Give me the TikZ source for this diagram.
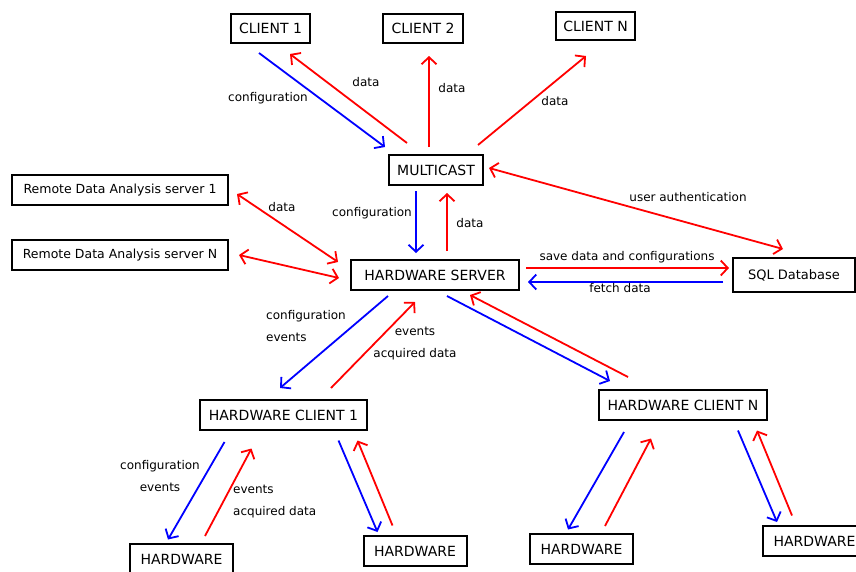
\documentclass[tikz,border=0pt]{standalone}
\usepackage{fontspec}
\setmainfont{DejaVu Sans}
\usetikzlibrary{arrows.meta,calc}

\tikzset{
  box/.style={draw, line width=2pt, minimum height=30pt, inner sep=2pt,
    font=\fontsize{14}{16}\selectfont},
  tag/.style={font=\fontsize{12}{22}\selectfont, inner sep=0pt},
  cfgline/.style={->, draw=blue, line width=1.8pt},
  dataline/.style={->, draw=red, line width=1.8pt},
}

\begin{document}
\begin{tikzpicture}[x=1pt,y=-1pt,>={Straight Barb[length=7pt,width=15pt]}]
\clip (0,0) rectangle (856,571);
\fill[white] (0,0) rectangle (856,571);

% top row
\node[box, minimum width=79pt, minimum height=29pt] (c1) at (270.5,28.5) {CLIENT 1};
\node[box, minimum width=80pt, minimum height=29pt] (c2) at (423,28.5) {CLIENT 2};
\node[box, minimum width=79pt, minimum height=28pt] (cN) at (595.5,26) {CLIENT N};
\node[box, minimum width=94pt] (mc) at (436,170) {MULTICAST};

% servers
\node[box, minimum width=216pt, font=\fontsize{12.5}{15}\selectfont] (rda1) at (120,190) {Remote Data Analysis server 1};
\node[box, minimum width=216pt, font=\fontsize{12.5}{15}\selectfont] (rdaN) at (120,255) {Remote Data Analysis server N};
\node[box, minimum width=168pt] (hws) at (435,275) {HARDWARE SERVER};
\node[box, minimum width=122pt, minimum height=34pt, font=\fontsize{13}{15}\selectfont] (sql) at (794,275) {SQL Database};

% hardware clients
\node[box, minimum width=167pt] (hwc1) at (283.5,415) {HARDWARE CLIENT 1};
\node[box, minimum width=168pt] (hwcN) at (683,405) {HARDWARE CLIENT N};
\foreach \n/\x/\y in {hw1/181.5/559, hw2/415/551, hw3/581.5/549, hw4/814.5/541}
  \node[box, minimum width=103pt] (\n) at (\x,\y) {HARDWARE};

% multicast <-> clients
\draw[cfgline] ($(c1.south)+(-11.5,9)$) -- ($(mc.north west)+(-3,-7)$);
\draw[dataline] ($(mc.north)+(-29,-11)$) -- ($(c1.south)+(19.5,10)$);
\draw[dataline] ($(mc.north)+(-7,-7)$) -- ($(c2.south)+(6,12)$);
\draw[dataline] ($(mc.north)+(42,-9)$) -- ($(cN.south)+(-9.5,15)$);
\node[tag] (t1) at (268,98) {configuration};
\node[tag] (t2) at (366,82) {data};
\node[tag] (t3) at (452,88) {data};
\node[tag] (t4) at (555,101) {data};

% multicast <-> server, sql
\draw[dataline, <->] ($(mc.east)+(5,-2)$) -- ($(sql.north)+(-11,-8)$);
\node[tag] (t5) at (688,197) {user authentication};
\draw[cfgline] ($(mc.south)+(-20,5)$) -- ($(hws.north)+(-19,-6)$);
\draw[dataline] ($(hws.north)+(12,-8)$) -- ($(mc.south)+(11,7)$);
\node[tag] (t6) at (372,213) {configuration};
\node[tag] (t7) at (470,223) {data};

% remote analysis
\draw[dataline, <->] ($(rda1.east)+(8,4)$) -- ($(hws.west)+(-12,-13)$);
\draw[dataline, <->] ($(rdaN.east)+(10,0)$) -- ($(hws.west)+(-11,3)$);
\node[tag] (t8) at (282,207) {data};

% database
\draw[dataline] ($(hws.east)+(6,-7)$) -- ($(sql.west)+(-3,-7)$);
\draw[cfgline] ($(sql.west)+(-9,7)$) -- ($(hws.east)+(8,7)$);
\node[tag] (t9) at (627,257) {save data and configurations};
\node[tag] (t10) at (620,288) {fetch data};

% server <-> hardware clients
\draw[cfgline] ($(hws.south)+(-47,5)$) -- ($(hwc1.north)+(-3.5,-11)$);
\draw[dataline] ($(hwc1.north)+(47.5,-11)$) -- ($(hws.south)+(-20,11)$);
\draw[cfgline] ($(hws.south)+(12,5)$) -- ($(hwcN.north)+(-73,-8)$);
\draw[dataline] ($(hwcN.north)+(-55,-12)$) -- ($(hws.south)+(35,4)$);
\node[tag, align=left, anchor=west] (t11) at (266,326) {configuration\\events};
\node[tag, align=center] (t12) at (415,344) {events\\acquired data};

% hardware clients <-> hardware
\foreach \c/\l/\r in {hwc1/hw1/hw2, hwcN/hw3/hw4} {
  \draw[cfgline] ($(\c.south)+(-59,11)$) -- ($(\l.north)+(-13.5,-3.5)$);
  \draw[dataline] ($(\l.north)+(23.5,-7)$) -- ($(\c.south)+(-32,17.5)$);
  \draw[cfgline] ($(\c.south)+(55,9.5)$) -- ($(\r.north)+(-37.5,-3)$);
  \draw[dataline] ($(\r.north)+(-22.5,-9.5)$) -- ($(\c.south)+(74,9.5)$);
}
\node[tag, align=center] (t13) at (160,476) {configuration\\events};
\node[tag, align=left, anchor=west] (t14) at (233,502) {events\\acquired data};
\end{tikzpicture}
\end{document}
